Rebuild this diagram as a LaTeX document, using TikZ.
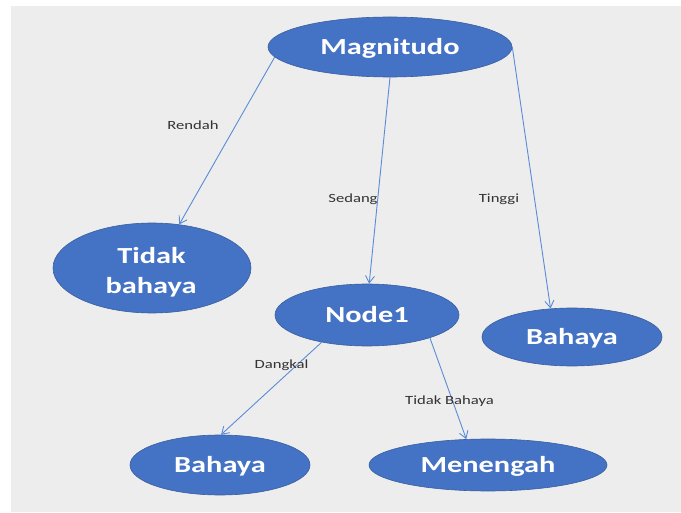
\documentclass[tikz,border=0pt]{standalone}
\usepackage{fontspec}
\usetikzlibrary{shapes.geometric,arrows.meta}
\newfontfamily\nodefont{Carlito}[FakeStretch=1.32]
\newfontfamily\lblfont{Carlito}[FakeStretch=1.33]
\definecolor{bgray}{HTML}{EDEDED}
\definecolor{nodeblue}{HTML}{4472C4}
\definecolor{nodeedge}{HTML}{3A5E9E}
\definecolor{linkblue}{HTML}{5B8BD6}
\tikzset{
  ell/.style={ellipse, fill=nodeblue, draw=nodeedge, line width=0.6pt,
    inner sep=0pt, text=white, font=\nodefont\bfseries\fontsize{23}{28}\selectfont,
    text height=14.8pt, text depth=0pt},
  ellword/.style={anchor=base, inner sep=0pt, text=white, font=\nodefont\bfseries\fontsize{23}{28}\selectfont},
  link/.style={draw=linkblue, line width=0.9pt, -{Straight Barb[length=7pt,width=9pt]}},
  lbl/.style={anchor=base, inner sep=0pt, text=black!80, font=\lblfont\fontsize{12.5}{15}\selectfont}
}
\begin{document}
\begin{tikzpicture}[x=1pt,y=-1pt]
\useasboundingbox (0,0) rectangle (681,513);
\fill[white] (0,0) rectangle (681,513);
\fill[bgray] (11,6) rectangle (681,512);

\node[ell, minimum width=244pt, minimum height=60pt] (mag) at (390,47) {Magnitudo};
\node[ell, minimum width=198pt, minimum height=90pt] (tb) at (152,268) {};
\node[ellword] (tb1) at (151.5,264) {Tidak};
\node[ellword] (tb2) at (151,294) {bahaya};
\node[ell, minimum width=184pt, minimum height=62pt] (n1) at (367,315) {Node1};
\node[ell, minimum width=180pt, minimum height=58pt] (bahR) at (572,337) {Bahaya};
\node[ell, minimum width=180pt, minimum height=60pt] (bahB) at (220,465) {Bahaya};
\node[ell, minimum width=238pt, minimum height=52pt] (men) at (488,465) {Menengah};

\draw[link] (mag.185) -- (tb.58);
\draw[link] (mag.270) -- (n1.86);
\draw[link] (mag.0) -- (bahR.127);
\draw[link] (n1.211) -- (bahB.88);
\draw[link] (n1.340) -- (men.130);

\node[lbl] (l1) at (193,130) {Rendah};
\node[lbl] (l2) at (353,203) {Sedang};
\node[lbl] (l3) at (499,203) {Tinggi};
\node[lbl] (l4) at (281.5,369) {Dangkal};
\node[lbl] (l5) at (449.5,405) {Tidak Bahaya};
\end{tikzpicture}
\end{document}
